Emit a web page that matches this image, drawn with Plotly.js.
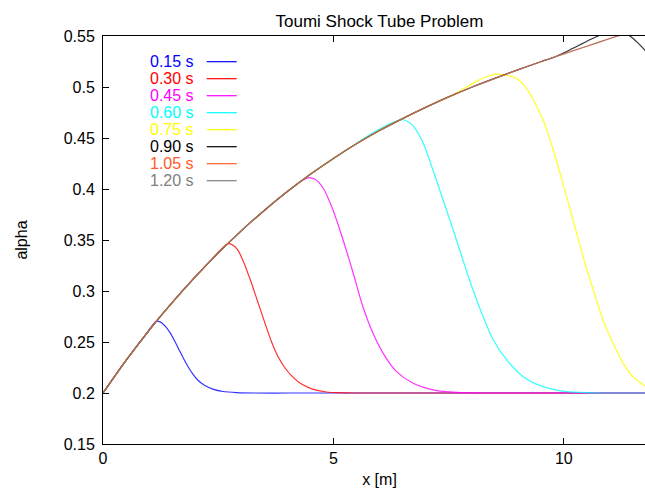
<!DOCTYPE html>
<html><head><meta charset="utf-8">
<script src="https://cdn.plot.ly/plotly-3.0.1.min.js"></script>
<style>html,body{margin:0;padding:0;overflow:hidden;background:#fff}#chart{width:660px;height:491px}</style>
</head><body><div id="chart"></div>
<script>
// ---- data ----
const seriesNames = ['0.15 s','0.30 s','0.45 s','0.60 s','0.75 s','0.90 s','1.05 s','1.20 s'];
const seriesColors = ['#0000ff','#ff0000','#ff00ff','#00ffff','#ffff00','#000000','#ff5a28','#808080'];

const x015 = [0,0.5,0.9,1.05,1.15,1.25,1.35,1.45,1.55,1.65,1.75,1.85,1.95,2.05,2.2,2.4,2.6,2.9,3.3,4,5,6,7,8,9,10,11,12];
const a015 = [0.2,0.232,0.2556,0.265,0.2703,0.2695,0.2655,0.2595,0.2515,0.2425,0.2335,0.2255,0.2185,0.213,0.2075,0.2035,0.2015,0.2004,0.2,0.2,0.2,0.2,0.2,0.2,0.2,0.2,0.2,0.2];

const x030 = [0,0.5,1,1.5,2,2.3,2.5,2.6,2.7,2.8,2.92,3.05,3.2,3.35,3.5,3.65,3.8,3.95,4.1,4.25,4.45,4.65,4.85,5.1,5.5,6,7,8,9,10,11,12];
const a030 = [0.2,0.232,0.2615,0.2885,0.3138,0.328,0.338,0.3425,0.3462,0.3455,0.3405,0.3285,0.3105,0.2905,0.2705,0.251,0.2355,0.2245,0.2165,0.2105,0.2055,0.2025,0.201,0.2003,0.2,0.2,0.2,0.2,0.2,0.2,0.2,0.2];

const x045 = [0,0.5,1,1.5,2,2.5,3,3.5,4,4.2,4.35,4.45,4.6,4.78,4.99,5.21,5.43,5.64,5.86,6.08,6.37,6.73,7.24,7.8,8.5,10,12];
const a045 = [0.2,0.232,0.2615,0.2885,0.3138,0.3373,0.359,0.379,0.3975,0.4045,0.409,0.411,0.4095,0.4007,0.3794,0.35,0.3174,0.2846,0.2585,0.2389,0.2209,0.2095,0.2023,0.2003,0.2,0.2,0.2];

const x060 = [0,0.5,1,1.5,2,2.5,3,3.5,4,4.5,5,5.4,5.7,6,6.25,6.48,6.6,6.73,6.95,7.16,7.38,7.6,7.81,8.03,8.25,8.47,8.76,9.12,9.55,10.06,10.6,11.2,12];
const a060 = [0.2,0.232,0.2615,0.2885,0.3138,0.3373,0.359,0.379,0.3975,0.4145,0.43,0.4416,0.4508,0.4588,0.4645,0.468,0.4665,0.4618,0.4448,0.4186,0.3892,0.3598,0.3304,0.301,0.2748,0.252,0.2324,0.216,0.2062,0.2013,0.2002,0.2,0.2];

const x075 = [0,0.5,1,1.5,2,2.5,3,3.5,4,4.5,5,5.5,6,6.5,7,7.5,7.8,8.1,8.35,8.54,8.75,8.97,9.12,9.26,9.4,9.55,9.77,9.98,10.2,10.42,10.64,10.85,11.07,11.29,11.5,11.76,12];
const a075 = [0.2,0.232,0.2615,0.2885,0.3138,0.3373,0.359,0.379,0.3975,0.4145,0.43,0.4443,0.4573,0.469,0.48,0.4903,0.4975,0.5055,0.5105,0.5127,0.5115,0.5085,0.5025,0.4938,0.482,0.4676,0.4382,0.4056,0.3696,0.3336,0.301,0.2716,0.2487,0.2291,0.216,0.2069,0.2035];

const x090 = [0,0.5,1,1.5,2,2.5,3,3.5,4,4.5,5,5.5,6,6.5,7,7.5,8,8.5,9,9.5,9.8,10,10.2,10.4,10.6,10.8,11,11.15,11.3,11.45,11.6,11.8,12];
const a090 = [0.2,0.232,0.2615,0.2885,0.3138,0.3373,0.359,0.379,0.3975,0.4145,0.43,0.4443,0.4573,0.469,0.48,0.4903,0.4998,0.5085,0.5168,0.5248,0.5294,0.5335,0.538,0.5425,0.547,0.5512,0.5542,0.555,0.553,0.5495,0.5435,0.534,0.522];

const x105 = [0,0.5,1,1.5,2,2.5,3,3.5,4,4.5,5,5.5,6,6.5,7,7.5,8,8.5,9,9.5,10,10.5,11,11.5,12];
const a105 = [0.2,0.232,0.2615,0.2885,0.3138,0.3373,0.359,0.379,0.3975,0.4145,0.43,0.4443,0.4573,0.469,0.48,0.4903,0.4998,0.5085,0.5168,0.5248,0.5325,0.54,0.5475,0.555,0.5623];

const x120 = [0,0.5,1,1.5,2,2.5,3,3.5,4,4.5,5,5.5,6,6.5,7,7.5,8,8.5,9,9.5,10,10.5,11,11.5,12];
const a120 = [0.2,0.232,0.2615,0.2885,0.3138,0.3373,0.359,0.379,0.3975,0.4145,0.43,0.4443,0.4573,0.469,0.48,0.4903,0.4998,0.5085,0.5168,0.5248,0.5325,0.54,0.5475,0.555,0.5623];

const xTickVals = [0,5,10];
const xTickText = ['0','5','10'];
const yTickVals = [0.15,0.2,0.25,0.3,0.35,0.4,0.45,0.5,0.55];
const yTickText = ['0.15','0.2','0.25','0.3','0.35','0.4','0.45','0.5','0.55'];

// ---- build ----
const xs = [x015,x030,x045,x060,x075,x090,x105,x120];
const ys = [a015,a030,a045,a060,a075,a090,a105,a120];
const opac = [0.8,0.8,0.8,0.8,0.85,0.8,0.9,0.6];
const traces = xs.map((x,i)=>({
  type:'scatter', mode:'lines', x:x, y:ys[i], name:seriesNames[i],
  line:{color:seriesColors[i], width:1.2, shape:'spline', smoothing:0.8},
  opacity:opac[i], hoverinfo:'skip'
}));

// plot area in pixels: left 103, top 36, bottom 444, width 553
const PW = 553, PT = 36, PB = 444;
const px2paperX = p => (p-103)/PW;
const px2paperY = p => (PB-p)/(PB-PT);
const annotations = [], shapes = [];
seriesNames.forEach((n,i)=>{
  const py = 61.7 + 17*i;
  annotations.push({text:n, xref:'paper', yref:'paper', x:px2paperX(196), y:px2paperY(py),
    xanchor:'right', yanchor:'middle', showarrow:false,
    font:{color:seriesColors[i], size:16}});
  shapes.push({type:'line', xref:'paper', yref:'paper', x0:px2paperX(206.7), x1:px2paperX(236.7),
    y0:px2paperY(py), y1:px2paperY(py), line:{color:seriesColors[i], width:1.2}, layer:'above'});
});

const axisCommon = {ticks:'inside', ticklen:6, tickcolor:'#000', tickwidth:1, showline:true,
  linecolor:'#000', linewidth:1, mirror:'ticks', showgrid:false, zeroline:false, automargin:false,
  tickfont:{size:16}};

const layout = {
  width:660, height:491, margin:{l:103, r:4, t:36, b:47},
  paper_bgcolor:'#fff', plot_bgcolor:'#fff',
  font:{family:'Liberation Sans, Arial, sans-serif', size:16, color:'#000'},
  title:{text:'Toumi Shock Tube Problem', x:0.5, xref:'paper', xanchor:'center',
         y:1-21/491, yref:'container', yanchor:'middle', font:{size:17}},
  showlegend:false,
  xaxis:Object.assign({}, axisCommon, {range:[0,12], tickvals:xTickVals, ticktext:xTickText,
        title:{text:'x [m]', standoff:7, font:{size:16}}}),
  yaxis:Object.assign({}, axisCommon, {range:[0.15,0.55], tickvals:yTickVals, ticktext:yTickText,
        ticklabelstandoff:4, title:{text:'alpha', standoff:32, font:{size:16}}}),
  annotations:annotations, shapes:shapes
};
Plotly.newPlot('chart', traces, layout, {staticPlot:true, displayModeBar:false});
</script></body></html>
